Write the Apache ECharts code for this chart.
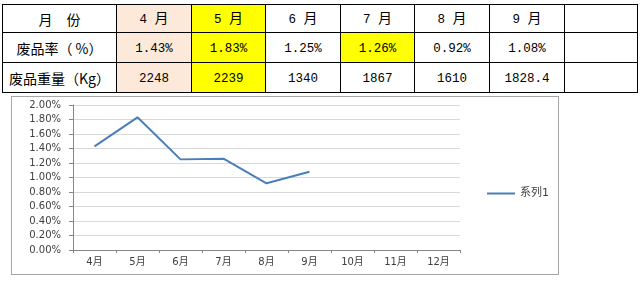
<!DOCTYPE html>
<html>
<head>
<meta charset="utf-8">
<script src="https://cdn.jsdelivr.net/npm/echarts@6/dist/echarts.min.js"></script>
<style>
  html, body { margin: 0; padding: 0; background: #fff; }
  body { width: 642px; height: 282px; position: relative; overflow: hidden; }
  #tbl {
    position: absolute; left: 2px; top: 4px;
    border-collapse: collapse; table-layout: fixed;
    font-family: "Noto Sans CJK SC", sans-serif; color: #000;
  }
  #tbl td {
    border: 1px solid #000; padding: 0; text-align: center; vertical-align: middle;
    font-size: 14px; line-height: 16px; white-space: pre; overflow: hidden;
  }
  #tbl td .num { font-family: "Liberation Mono", monospace; font-size: 12.5px; }
  #tbl td.peach { background: #fde9d9; }
  #tbl td.yellow { background: #ffff00; }
  #chartBox {
    position: absolute; left: 11px; top: 96px; width: 546px; height: 177px;
    border: 1px solid #a6a6a6;
  }
  #chart { width: 546px; height: 177px; }
</style>
</head>
<body>
<table id="tbl"></table>
<div id="chartBox"><div id="chart"></div></div>
<script>
// Monthly scrap figures
const months = ['4', '5', '6', '7', '8', '9'];
const scrapRate = [1.43, 1.83, 1.25, 1.26, 0.92, 1.08];      // %
const scrapWeight = ['2248', '2239', '1340', '1867', '1610', '1828.4']; // Kg
const axisMonths = ['4月', '5月', '6月', '7月', '8月', '9月', '10月', '11月', '12月'];
const yTicks = { min: 0, max: 2, step: 0.2 };
const rowHeaders = ['月　份', '废品率（ %）', '废品重量（Kg）'];
const seriesName = '系列1';

const colWidths = [114, 75, 74, 75, 74, 75, 75, 73];
const rowHeights = [28, 30, 30];
// Highlighted cells by row and month index
function cellClass(row, m) {
  if (m === 0) return 'peach';
  if (m === 1) return 'yellow';
  if (row === 1 && m === 3) return 'yellow';
  return '';
}

// Build the summary table
const tbl = document.getElementById('tbl');
const cg = document.createElement('colgroup');
colWidths.forEach(w => { const c = document.createElement('col'); c.style.width = w + 'px'; cg.appendChild(c); });
tbl.appendChild(cg);
for (let r = 0; r < 3; r++) {
  const tr = document.createElement('tr');
  tr.style.height = rowHeights[r] + 'px';
  const th = document.createElement('td');
  th.textContent = rowHeaders[r];
  tr.appendChild(th);
  for (let m = 0; m < colWidths.length - 1; m++) {
    const td = document.createElement('td');
    if (m < months.length) {
      td.className = cellClass(r, m);
      if (r === 0) {
        td.innerHTML = '<span class="num">' + months[m] + ' </span>月';
      } else if (r === 1) {
        td.innerHTML = '<span class="num">' + scrapRate[m].toFixed(2) + '%</span>';
      } else {
        td.innerHTML = '<span class="num">' + scrapWeight[m] + '</span>';
      }
    }
    tr.appendChild(td);
  }
  tbl.appendChild(tr);
}

// Line chart of the scrap rate
const chart = echarts.init(document.getElementById('chart'), null, { renderer: 'canvas' });
const font = '"DejaVu Sans", "Noto Sans CJK SC", sans-serif';
chart.setOption({
  animation: false,
  grid: { left: 61, right: 98, top: 8, bottom: 24 },
  legend: {
    data: [seriesName], orient: 'vertical', left: 470, top: 86,
    icon: 'rect', itemWidth: 28, itemHeight: 2,
    textStyle: { fontSize: 11, color: '#404040', fontFamily: font }
  },
  xAxis: {
    type: 'category', data: axisMonths, boundaryGap: true,
    axisLine: { lineStyle: { color: '#868686', width: 1 } },
    axisTick: { show: true, length: 3, lineStyle: { color: '#868686' } },
    axisLabel: { fontSize: 10, color: '#404040', margin: 7, fontFamily: font }
  },
  yAxis: {
    type: 'value', min: yTicks.min, max: yTicks.max, interval: yTicks.step,
    axisLine: { show: true, lineStyle: { color: '#868686', width: 1 } },
    axisTick: { show: true, length: 4, inside: false, lineStyle: { color: '#868686' } },
    splitLine: { lineStyle: { color: '#d9d9d9', width: 1 } },
    axisLabel: {
      fontSize: 10, color: '#404040', margin: 12, fontFamily: font,
      formatter: v => v.toFixed(2) + '%'
    }
  },
  series: [{
    name: seriesName, type: 'line', data: scrapRate,
    symbol: 'none', showSymbol: false,
    lineStyle: { color: '#4a7ebb', width: 2 },
    itemStyle: { color: '#4a7ebb' }
  }]
});
</script>
</body>
</html>
